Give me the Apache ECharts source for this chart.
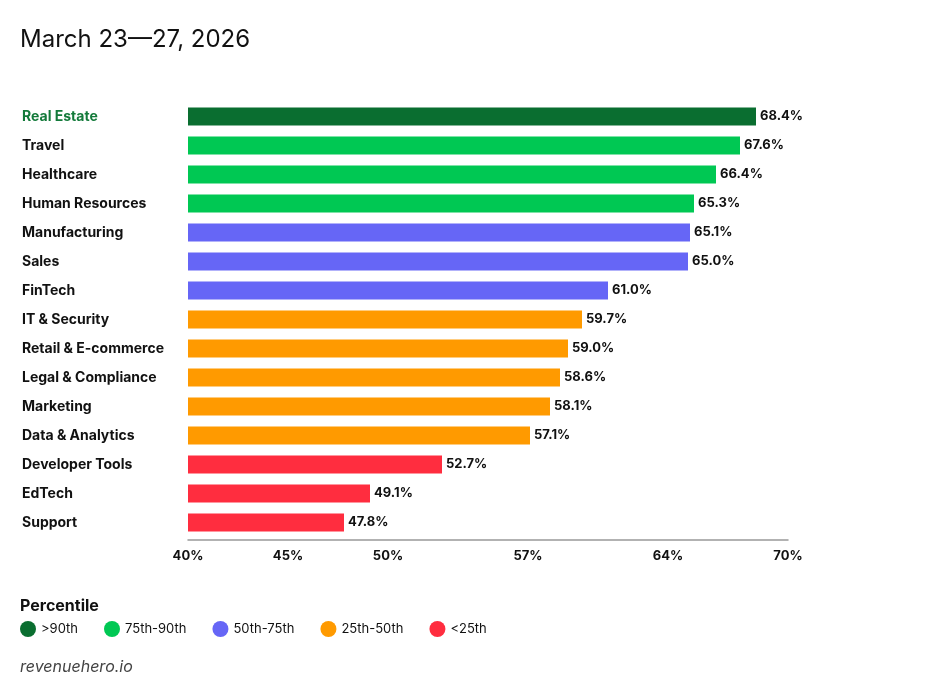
<!DOCTYPE html>
<html>
<head>
<meta charset="utf-8">
<script src="https://cdn.jsdelivr.net/npm/echarts@6/dist/echarts.min.js"></script>
<style>html,body{margin:0;padding:0;background:#fff}#c{width:952px;height:700px}</style>
</head>
<body>
<div id="c"></div>
<script>
const categories = ["Real Estate","Travel","Healthcare","Human Resources","Manufacturing","Sales","FinTech","IT & Security","Retail & E-commerce","Legal & Compliance","Marketing","Data & Analytics","Developer Tools","EdTech","Support"];
const values = [68.4,67.6,66.4,65.3,65.1,65.0,61.0,59.7,59.0,58.6,58.1,57.1,52.7,49.1,47.8];
const tiers = [0,1,1,1,2,2,2,3,3,3,3,3,4,4,4];
const tierNames = [">90th","75th-90th","50th-75th","25th-50th","<25th"];
const tierColors = ["#0a6e30","#00c853","#6666f6","#ff9a00","#ff2d3f"];
const tickValues = [40,45,50,57,64,70];

const chart = echarts.init(document.getElementById('c'));
const FONT = 'Inter, "Noto Sans", sans-serif';
const series = tierNames.map((name, t) => ({
  name: name,
  type: 'bar',
  stack: 'all',
  barWidth: 18,
  itemStyle: { color: tierColors[t] },
  label: {
    show: true, position: 'right', distance: 4,
    formatter: p => p.value.toFixed(1) + '%',
    fontFamily: FONT, fontWeight: 700, fontSize: 13, color: '#111'
  },
  data: values.map((v, i) => tiers[i] === t ? v : '-')
}));

chart.setOption({
  backgroundColor: '#fff',
  animation: false,
  title: {
    text: 'March 23\u201427, 2026', left: 15, top: 23,
    textStyle: { fontFamily: FONT, fontWeight: 400, fontSize: 24, color: '#111' }
  },
  graphic: [
    { type: 'text', left: 20, top: 598, style: { text: 'Percentile', font: '700 16px ' + FONT, fill: '#111' } },
    { type: 'text', left: 20, top: 659, style: { text: 'revenuehero.io', font: 'italic 400 16px ' + FONT, fill: '#444' } }
  ],
  legend: {
    left: 15, top: 616, itemWidth: 16, itemHeight: 16, itemGap: 26, icon: 'circle',
    textStyle: { fontFamily: FONT, fontSize: 13, color: '#111' },
    data: tierNames
  },
  grid: { left: 188, right: 164, top: 102, bottom: 163, containLabel: false },
  xAxis: {
    type: 'value', min: 40, max: 70, offset: 3,
    splitLine: { show: false },
    axisLine: { show: true, lineStyle: { color: '#999', width: 1.5 } },
    axisTick: { show: false },
    axisLabel: {
      customValues: tickValues, margin: 10,
      formatter: v => v + '%',
      fontFamily: FONT, fontWeight: 700, fontSize: 13, color: '#111'
    }
  },
  yAxis: {
    type: 'category', inverse: true, data: categories,
    axisLine: { show: false }, axisTick: { show: false },
    axisLabel: {
      align: 'left', margin: 166,
      fontFamily: FONT, fontWeight: 700, fontSize: 14,
      color: (v, i) => i === 0 ? '#137a3a' : '#111'
    }
  },
  series: series
});
</script>
</body>
</html>
